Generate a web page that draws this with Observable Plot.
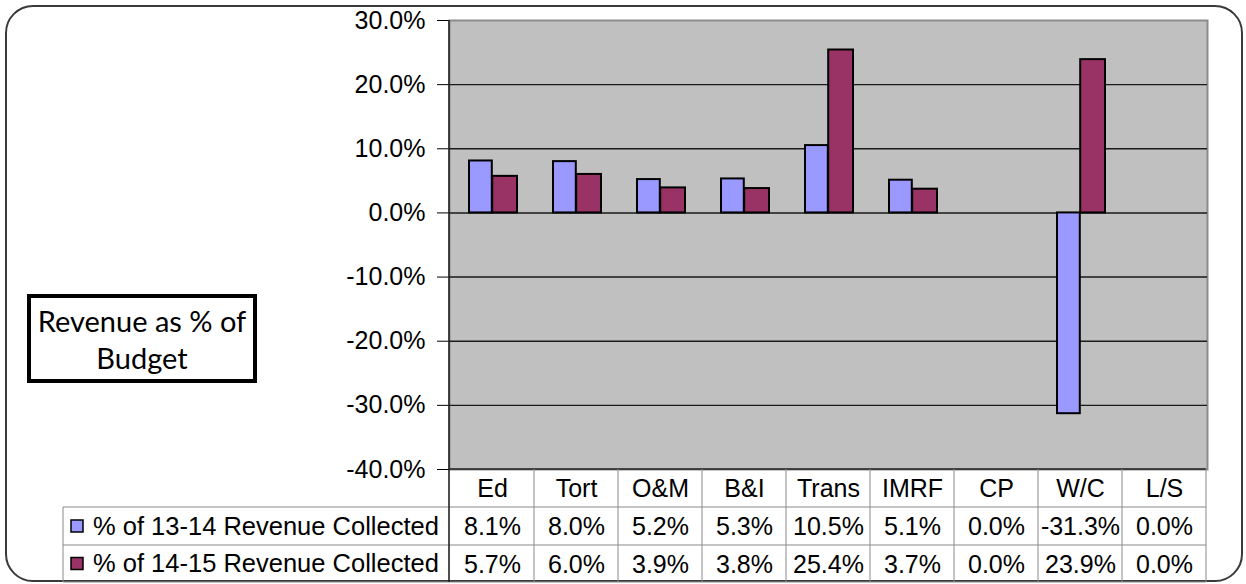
<!DOCTYPE html>
<html><head><meta charset="utf-8">
<script src="https://cdn.jsdelivr.net/npm/d3@7"></script>
<script src="https://cdn.jsdelivr.net/npm/@observablehq/plot@0.6"></script>
<style>
body{margin:0;background:#fff;}
#wrap{position:relative;width:1246px;height:584px;overflow:hidden;background:#fff;}
#outer{position:absolute;left:5px;top:5px;width:1238px;height:577px;border:2px solid #3a3a3a;border-radius:28px;box-sizing:border-box;}
#label{position:absolute;left:27px;top:294px;width:230px;height:89px;border:4px solid #000;box-sizing:border-box;font-family:Lato,"Open Sans",sans-serif;font-size:29px;text-align:center;line-height:37px;padding-top:4px;color:#000;background:#fff;}
#chart{position:absolute;left:0;top:0;}
</style></head>
<body>
<div id="wrap">
  <div id="outer"></div>
  <div id="chart"></div>
  <div id="label">Revenue as % of<br>Budget</div>
</div>
<script>
const categories = ["Ed","Tort","O&M","B&I","Trans","IMRF","CP","W/C","L/S"];
const seriesNames = ["% of 13-14 Revenue Collected","% of 14-15 Revenue Collected"];
const rev1314 = [8.1, 8.0, 5.2, 5.3, 10.5, 5.1, 0.0, -31.3, 0.0];
const rev1415 = [5.7, 6.0, 3.9, 3.8, 25.4, 3.7, 0.0, 23.9, 0.0];
const yTicks = [-40, -30, -20, -10, 0, 10, 20, 30];
const colors = ["#9999ff", "#993366"];

const rowsA = categories.map((c, i) => ({cat: c, value: rev1314[i]}));
const rowsB = categories.map((c, i) => ({cat: c, value: rev1415[i]}));
const fmt = v => v.toFixed(1) + "%";
const FONT = "Liberation Sans, Arial, sans-serif";

const mL = 449, mR = 39, mT = 20, mB = 115;
const plot = Plot.plot({
  width: 1246, height: 584,
  marginLeft: mL, marginRight: mR, marginTop: mT, marginBottom: mB,
  style: {fontFamily: FONT, fontSize: "25px", background: "transparent", overflow: "visible", color: "#000"},
  x: {domain: categories, padding: 0, axis: null},
  y: {domain: [-40, 30], axis: null},
  marks: [
    Plot.frame({fill: "#c0c0c0", stroke: "#8c8c8c", strokeWidth: 2}),
    Plot.ruleY(yTicks.filter(t => t > -40 && t < 30), {stroke: "#1a1a1a", strokeWidth: 1.4}),
    Plot.barY(rowsA, {x: "cat", y: "value", fill: colors[0], stroke: "#000", strokeWidth: 2, insetLeft: 19, insetRight: 42.2}),
    Plot.barY(rowsB, {x: "cat", y: "value", fill: colors[1], stroke: "#000", strokeWidth: 2, insetLeft: 42.2, insetRight: 17}),
    Plot.axisY(yTicks, {label: null, tickSize: 12, tickPadding: 12, tickFormat: fmt, fontSize: 25, stroke: "#000", fill: "#000"}),
    Plot.text(categories, {x: d => d, text: d => d, frameAnchor: "bottom", lineAnchor: "middle", dy: 19, fontSize: 25, fill: "#000"}),
    Plot.text(categories, {x: d => d, text: (d, i) => fmt(rev1314[i]), frameAnchor: "bottom", lineAnchor: "middle", dy: 57, fontSize: 25, fill: "#000"}),
    Plot.text(categories, {x: d => d, text: (d, i) => fmt(rev1415[i]), frameAnchor: "bottom", lineAnchor: "middle", dy: 95, fontSize: 25, fill: "#000"})
  ]
});
document.getElementById("chart").appendChild(plot);

// data table grid and legend cells
const xs = plot.scale("x");
const bw = xs.bandwidth;
const bounds = categories.map(c => xs.apply(c));
bounds.push(bounds[bounds.length - 1] + bw);
const yTop = 584 - mB, r1 = yTop + 38, r2 = r1 + 38, r3 = r2 + 37;
const legendLeft = 63;
const right = bounds[bounds.length - 1];
const svg = d3.select(plot);
const g = svg.append("g").attr("stroke", "#8a8a8a").attr("stroke-width", 1);
[r1, r2, r3].forEach(y =>
  g.append("line").attr("x1", legendLeft).attr("x2", right).attr("y1", y).attr("y2", y));
g.append("line").attr("x1", mL).attr("x2", right).attr("y1", yTop).attr("y2", yTop).attr("stroke", "#222").attr("stroke-width", 1.5);
bounds.slice(1).forEach(x => g.append("line").attr("x1", x).attr("x2", x).attr("y1", yTop).attr("y2", r3));
g.append("line").attr("x1", legendLeft).attr("x2", legendLeft).attr("y1", r1).attr("y2", r3);
// left axis line
svg.append("line").attr("x1", mL).attr("x2", mL).attr("y1", mT).attr("y2", r3).attr("stroke", "#222").attr("stroke-width", 1.6);
// legend cells
seriesNames.forEach((name, k) => {
  const cy = (k === 0 ? (r1 + r2) / 2 : (r2 + r3) / 2);
  svg.append("rect").attr("x", 71).attr("y", cy - 6).attr("width", 12).attr("height", 12)
    .attr("fill", colors[k]).attr("stroke", "#000").attr("stroke-width", 1.5);
  svg.append("text").attr("x", 93).attr("y", cy).attr("dy", "0.35em")
    .attr("text-anchor", "start")
    .attr("font-family", FONT).attr("font-size", 25.5).attr("fill", "#000").text(name);
});
</script>
</body></html>
